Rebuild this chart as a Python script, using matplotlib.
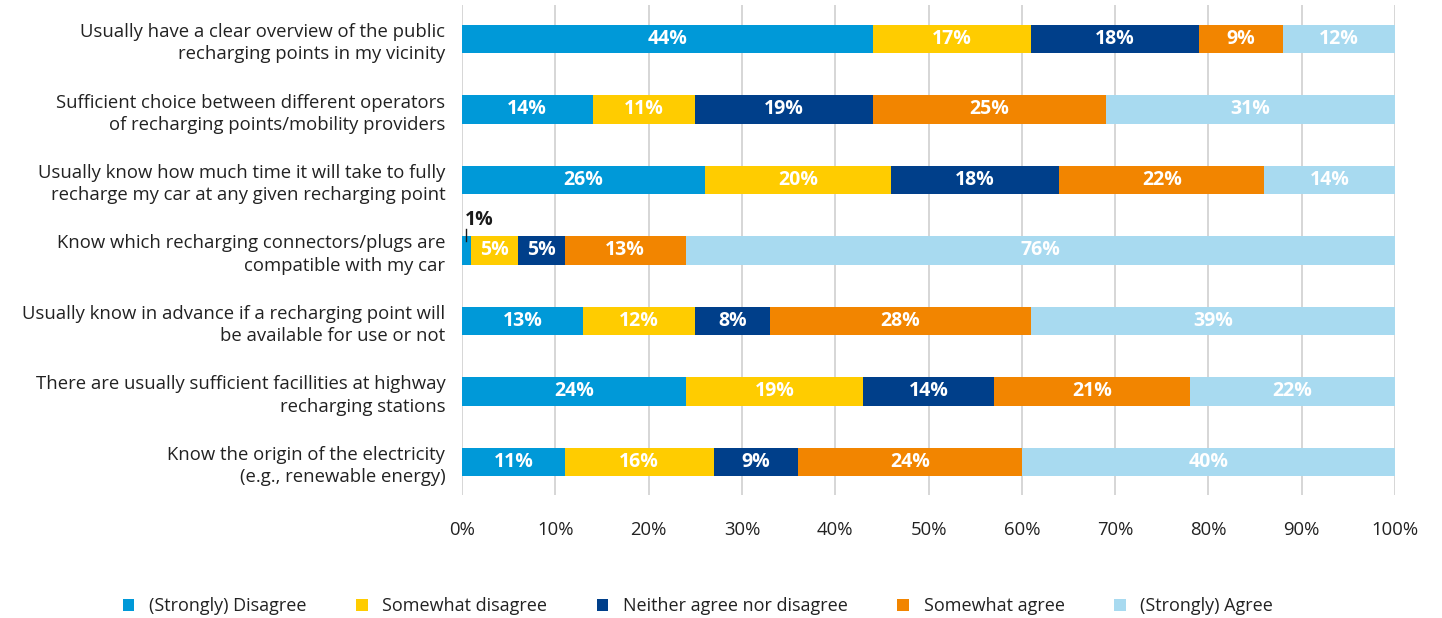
import matplotlib
matplotlib.use("Agg")
import matplotlib.pyplot as plt
import numpy as np
from matplotlib.patches import Patch

plt.rcParams['font.family'] = ['Open Sans', 'DejaVu Sans']

categories = [
    "Usually have a clear overview of the public\nrecharging points in my vicinity",
    "Sufficient choice between different operators\nof recharging points/mobility providers",
    "Usually know how much time it will take to fully\nrecharge my car at any given recharging point",
    "Know which recharging connectors/plugs are\ncompatible with my car",
    "Usually know in advance if a recharging point will\nbe available for use or not",
    "There are usually sufficient facillities at highway\nrecharging stations",
    "Know the origin of the electricity\n(e.g., renewable energy)",
]
series_names = ["(Strongly) Disagree", "Somewhat disagree", "Neither agree nor disagree",
                "Somewhat agree", "(Strongly) Agree"]
strongly_disagree = [44, 14, 26, 1, 13, 24, 11]
somewhat_disagree = [17, 11, 20, 5, 12, 19, 16]
neither = [18, 19, 18, 5, 8, 14, 9]
somewhat_agree = [9, 25, 22, 13, 28, 21, 24]
strongly_agree = [12, 31, 14, 76, 39, 22, 40]
xticks = [0, 10, 20, 30, 40, 50, 60, 70, 80, 90, 100]

colors = ['#0099D8', '#FFCC00', '#003F8A', '#F28500', '#A8DAF0']
series = [strongly_disagree, somewhat_disagree, neither, somewhat_agree, strongly_agree]

fig = plt.figure(figsize=(14.42, 6.18), dpi=100)
ax = fig.add_axes([462/1442, 1-495/618, 933/1442, 490/618])

y = np.arange(len(categories))
left = np.zeros(len(categories))
for vals, col, name in zip(series, colors, series_names):
    vals = np.array(vals, dtype=float)
    ax.barh(y, vals, left=left, height=0.4, color=col, label=name, zorder=3)
    for i, v in enumerate(vals):
        if v >= 3:
            ax.text(left[i] + v/2, y[i], f"{int(v)}%", ha='center', va='center',
                    color='white', fontsize=14, fontweight='bold', zorder=4)
        else:
            ax.text(left[i] + v/2 - 0.2, y[i] - 0.43, f"{int(v)}%", ha='left', va='center',
                    color='#1a1a1a', fontsize=14, fontweight='bold', zorder=4)
            ax.plot([left[i] + v/2 - 0.05]*2, [y[i] - 0.31, y[i] - 0.13], color='#1a1a1a',
                    lw=1, zorder=5)
    left += vals

ax.set_xlim(0, 100)
ax.set_ylim(6 + 33/70.5, -34/70.5)
ax.set_yticks(y)
ax.set_yticklabels(categories, fontsize=13.3, color='#222222', linespacing=1.3)
ax.set_xticks(xticks)
ax.set_xticklabels([f"{t}%" for t in xticks], fontsize=13.3, color='#222222')
ax.tick_params(axis='y', length=0, pad=12)
ax.tick_params(axis='x', length=0, pad=19)
ax.grid(axis='x', color='#D0D0D0', lw=1.2, zorder=0)
for s in ax.spines.values():
    s.set_visible(False)

handles = [Patch(facecolor=c, edgecolor='none') for c in colors]
fig.legend(handles, series_names, loc='center', bbox_to_anchor=(0.484, 1-606/618),
           ncol=5, frameon=False, fontsize=13, handlelength=0.65, handleheight=0.65,
           columnspacing=2.75, handletextpad=0.8, labelcolor='#222222')

fig.savefig("out.png", dpi=100)
